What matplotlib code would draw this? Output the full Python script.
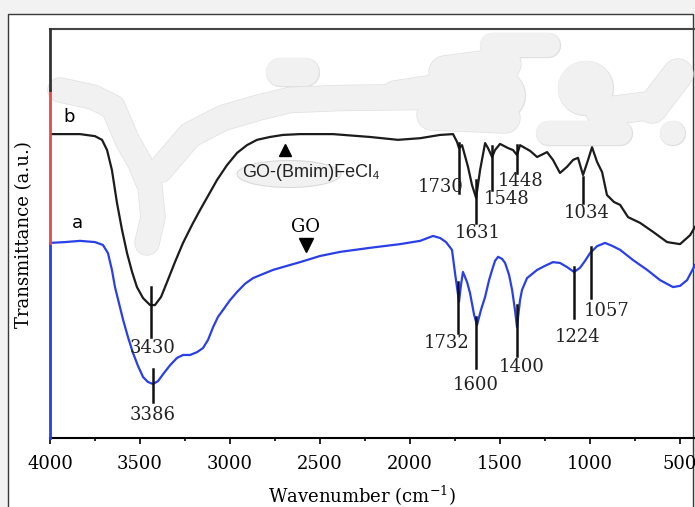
import matplotlib
matplotlib.use("Agg")
import matplotlib.pyplot as plt
from matplotlib.patches import Rectangle, Ellipse
import numpy as np

# FTIR spectra, transmittance in arbitrary units (0-100)
wn_b = [4000, 3833, 3750, 3711, 3683, 3656, 3628, 3600, 3572, 3544, 3517, 3483,
        3444, 3417, 3383, 3350, 3306, 3261, 3211, 3167, 3122, 3072, 3017, 2961,
        2906, 2850, 2778, 2706, 2611, 2428, 2222, 2067, 1944, 1833, 1761, 1739,
        1728, 1711, 1678, 1656, 1633, 1611, 1583, 1567, 1544, 1528, 1500, 1456,
        1428, 1406, 1389, 1333, 1294, 1239, 1206, 1167, 1128, 1094, 1067, 1039,
        1011, 989, 961, 933, 906, 867, 833, 789, 722, 650, 572, 500, 444, 417]
t_b = [74.3, 74.3, 73.8, 72.9, 70.4, 65.5, 57.5, 50.9, 45.2, 40.6, 36.9, 34.2,
       32.5, 32.5, 34.5, 38.1, 43.0, 47.7, 52.1, 55.7, 59.2, 63.1, 66.7, 69.7,
       71.6, 72.9, 73.6, 74.1, 74.3, 74.3, 73.6, 72.9, 73.3, 74.1, 74.3, 72.4,
       70.9, 71.6, 66.3, 61.9, 58.7, 65.5, 72.1, 70.9, 68.7, 70.4, 71.9, 70.9,
       70.4, 69.2, 71.6, 70.2, 68.7, 69.9, 68.0, 64.8, 66.3, 68.0, 68.5, 64.3,
       68.0, 71.1, 67.5, 65.0, 59.4, 57.7, 57.0, 54.0, 52.6, 50.4, 47.9, 47.4,
       49.6, 51.6]

wn_a = [4000, 3917, 3833, 3750, 3706, 3678, 3656, 3639, 3617, 3594, 3567, 3539,
        3511, 3483, 3456, 3428, 3400, 3372, 3333, 3294, 3261, 3222, 3183, 3150,
        3122, 3094, 3067, 3039, 3000, 2961, 2917, 2872, 2817, 2761, 2706, 2611,
        2500, 2389, 2222, 2056, 1944, 1872, 1833, 1800, 1767, 1750, 1728, 1717,
        1706, 1683, 1667, 1644, 1628, 1606, 1583, 1561, 1544, 1528, 1511, 1489,
        1472, 1450, 1433, 1417, 1406, 1389, 1378, 1350, 1294, 1250, 1206, 1167,
        1128, 1089, 1056, 1028, 1000, 961, 917, 878, 833, 761, 683, 611, 539,
        500, 461, 417]
t_a = [47.7, 47.9, 48.2, 47.9, 47.2, 45.2, 41.1, 36.9, 33.0, 28.9, 24.7, 20.8,
       17.6, 14.9, 13.7, 13.2, 13.9, 15.6, 17.8, 19.6, 20.3, 20.3, 21.0, 22.0,
       24.0, 27.1, 29.6, 31.3, 33.7, 35.7, 37.7, 39.1, 40.1, 41.1, 41.8, 43.0,
       44.5, 45.5, 46.5, 47.4, 48.2, 49.4, 48.9, 47.9, 46.0, 40.3, 33.3, 37.4,
       40.6, 38.1, 35.5, 30.1, 27.6, 31.3, 34.5, 38.6, 41.1, 43.3, 44.3, 43.8,
       42.8, 39.9, 36.2, 31.3, 27.1, 33.7, 36.2, 39.1, 41.1, 42.1, 43.0, 42.8,
       41.8, 40.6, 41.6, 43.3, 45.2, 46.9, 47.7, 47.0, 46.0, 43.5, 41.1, 38.6,
       36.9, 37.2, 38.6, 42.3]

# peak annotations: label, marker x, marker top/bottom, label centre
peak_labels = ["3430", "3386", "1730", "1631", "1548", "1448", "1034",
               "1732", "1600", "1400", "1224", "1057"]
peak_wn = [3439, 3428, 1728, 1633, 1544, 1406, 1039, 1733, 1633, 1406, 1089, 994]
peak_top = [36.9, 16.9, 72.1, 63.1, 71.4, 71.6, 63.8, 38.1, 29.6, 32.5, 41.8, 46.7]
peak_bot = [24.7, 8.8, 59.9, 52.6, 60.6, 64.8, 57.5, 25.7, 17.1, 20.0, 29.3, 34.2]
label_wn = [3433, 3428, 1828, 1622, 1461, 1383, 1017, 1794, 1633, 1378, 1072, 906]
label_t = [22.0, 5.6, 61.4, 50.1, 58.4, 62.8, 55.0, 23.2, 13.0, 17.4, 24.7, 31.1]

xticks = [4000, 3500, 3000, 2500, 2000, 1500, 1000, 500]

W, H = 695, 507
plt.rcParams['mathtext.fontset'] = 'dejavuserif'
fig = plt.figure(figsize=(W / 100, H / 100), dpi=100)
fig.patch.set_facecolor('#f2f2f2')


def fx(x):
    return x / W


def fy(y):
    return 1 - y / H


# white panel with thin frame (behind the axes)
panel = Rectangle((fx(8), fy(520)), fx(685), fy(14) - fy(520),
                  transform=fig.transFigure, facecolor='white',
                  edgecolor='#3a3a3a', lw=1.0, zorder=-5)
fig.patches.append(panel)

ax = fig.add_axes([fx(50), 1 - 438 / H, (W - 50) / W, 409 / H])
ax.set_facecolor('none')
ax.set_zorder(2)

# gray erasure marks
px_per_pt = 100 / 72.0
strokes = [
    ([(60, 90), (93, 97), (113, 107), (127, 140), (140, 163), (150, 187), (153, 217), (147, 243)], 24),
    ([(160, 170), (190, 135), (223, 118), (257, 108), (290, 100), (340, 98), (420, 97)], 25),
    ([(280, 72), (305, 72)], 28),
    ([(492, 45), (548, 45)], 24),
    ([(395, 95), (440, 88)], 28),
    ([(445, 72), (505, 64)], 32),
    ([(432, 115), (505, 118)], 30),
    ([(470, 95), (500, 95)], 50),
    ([(548, 133), (620, 133)], 24),
    ([(585, 88), (586, 88)], 54),
    ([(600, 112), (655, 105)], 28),
    ([(652, 108), (678, 74)], 30),
    ([(672, 133), (673, 133)], 24),
]
for lay, (col, extra) in enumerate([('#e0e0e0', 1.4), ('#f1f1f1', 0)]):
    for pts, w in strokes:
        xs = [fx(p[0]) for p in pts]
        ys = [fy(p[1]) for p in pts]
        ax.plot(xs, ys, transform=fig.transFigure, color=col,
                lw=(w + extra) / px_per_pt, solid_capstyle='round',
                solid_joinstyle='round', zorder=1 + lay * 0.1, clip_on=False)
ax.add_artist(Ellipse((fx(289), fy(174)), fx(104), 27 / H, transform=fig.transFigure,
                      facecolor='#f1f1f1', edgecolor='#dadada', lw=0.8, zorder=1.2))

# spectra
ax.plot(wn_b, t_b, color='#1c1c1c', lw=1.6, zorder=3)
ax.plot(wn_a, t_a, color='#2a40e6', lw=1.6, zorder=3)

# peak markers
for lab, x, t0, t1, lx, ly in zip(peak_labels, peak_wn, peak_top, peak_bot, label_wn, label_t):
    ax.plot([x, x], [t0, t1], color='#111111', lw=1.8, zorder=4)
    ax.text(lx, ly, lab, ha='center', va='center', fontsize=13,
            family='DejaVu Serif', color='#222222', zorder=5)

ax.text(3894, 78.5, 'b', fontsize=13, family='DejaVu Sans', ha='center', va='center')
ax.text(3850, 52.6, 'a', fontsize=13, family='DejaVu Sans', ha='center', va='center')
ax.plot([2694], [70.4], marker='^', color='black', ms=9, zorder=5)
ax.text(2933, 65.0, 'GO-(Bmim)FeCl\u2084', fontsize=13, family=['Liberation Sans', 'DejaVu Sans'],
        ha='left', va='center', color='#222222', zorder=5)
ax.text(2578, 51.6, 'GO', fontsize=13, family='DejaVu Serif', ha='center', va='center')
ax.plot([2578], [47.2], marker='v', color='black', ms=10, zorder=5)

ax.set_xlim(4000, 417)
ax.set_ylim(0, 100)
ax.set_yticks([])
ax.set_xticks(xticks)
ax.set_xticks(np.arange(3750, 400, -500), minor=True)
ax.tick_params(axis='x', which='major', direction='out', length=4.5, width=1.2,
               pad=8, labelsize=13)
ax.tick_params(axis='x', which='minor', direction='out', length=2.5, width=1.2)
for lbl in ax.get_xticklabels():
    lbl.set_family('DejaVu Serif')

for side in ['left', 'right']:
    ax.spines[side].set_visible(False)
ax.spines['bottom'].set_linewidth(1.5)
ax.spines['top'].set_linewidth(1.5)
ax.spines['top'].set_color('#444444')

# coloured left axis segments
ax.plot([4000, 4000], [0, t_a[0]], color='#2a40e6', lw=2, clip_on=False, zorder=6)
ax.plot([4000, 4000], [t_a[0], 85.1], color='#e84a4a', lw=2, clip_on=False, zorder=6)
ax.plot([4000, 4000], [85.1, 100], color='#333333', lw=2, clip_on=False, zorder=6)

ax.set_xlabel('Wavenumber (cm$^{-1}$)', fontsize=13, family='DejaVu Serif')
ax.xaxis.set_label_coords((362 - 50) / 645, (438 - 484) / 409)
ax.set_ylabel('Transmittance (a.u.)', fontsize=13, family='DejaVu Serif')
ax.yaxis.set_label_coords((33 - 50) / 645, (438 - 235) / 409)

fig.savefig('out.png', dpi=100, facecolor=fig.get_facecolor())
